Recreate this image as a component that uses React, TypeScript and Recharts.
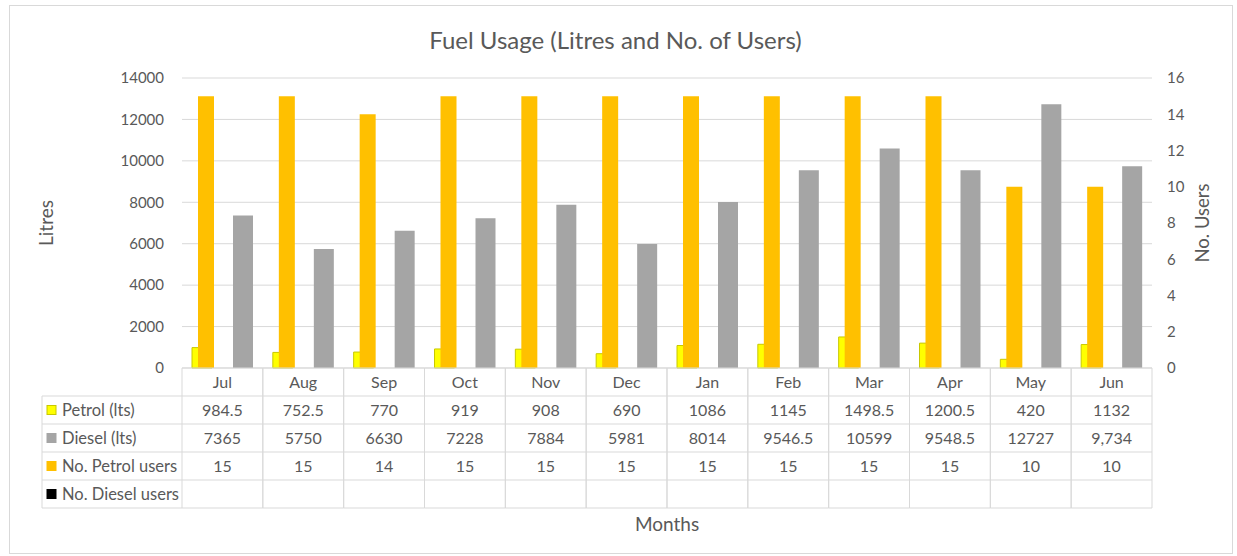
import React from 'react';
import { BarChart, Bar, XAxis, YAxis, CartesianGrid } from 'recharts';

const months = ['Jul', 'Aug', 'Sep', 'Oct', 'Nov', 'Dec', 'Jan', 'Feb', 'Mar', 'Apr', 'May', 'Jun'];
const petrolLitres = [984.5, 752.5, 770, 919, 908, 690, 1086, 1145, 1498.5, 1200.5, 420, 1132];
const dieselLitres = [7365, 5750, 6630, 7228, 7884, 5981, 8014, 9546.5, 10599, 9548.5, 12727, 9734];
const dieselText = ['7365', '5750', '6630', '7228', '7884', '5981', '8014', '9546.5', '10599', '9548.5', '12727', '9,734'];
const petrolUsers = [15, 15, 14, 15, 15, 15, 15, 15, 15, 15, 10, 10];
const dieselUsers: (number | null)[] = [null, null, null, null, null, null, null, null, null, null, null, null];

const litresTicks = [0, 2000, 4000, 6000, 8000, 10000, 12000, 14000];
const userTicks = [0, 2, 4, 6, 8, 10, 12, 14, 16];

const data = months.map((m, i) => ({
  month: m,
  petrol: petrolLitres[i],
  diesel: dieselLitres[i],
  petrolUsers: petrolUsers[i],
  dieselUsers: dieselUsers[i],
}));

const FONT = 'Lato, "Open Sans", sans-serif';
const TEXT = '#595959';
const LINE = '#d9d9d9';

// table layout
const PLOT_LEFT = 182;
const PLOT_W = 970;
const COL_W = PLOT_W / months.length;
const ROW_H = 28;
const LABEL_LEFT = 42;

const rows = [
  { name: 'Petrol (lts)', fill: '#FFFF00', stroke: '#C8C800', text: (i: number) => String(petrolLitres[i]) },
  { name: 'Diesel (lts)', fill: '#A5A5A5', stroke: '#A5A5A5', text: (i: number) => dieselText[i] },
  { name: 'No. Petrol users', fill: '#FFC000', stroke: '#FFC000', text: (i: number) => String(petrolUsers[i]) },
  { name: 'No. Diesel users', fill: '#000000', stroke: '#000000', text: (i: number) => (dieselUsers[i] == null ? '' : String(dieselUsers[i])) },
];

const TableTick = (props: any) => {
  const { x, y, payload } = props;
  const i = props.index ?? payload.index;
  const left = x - COL_W / 2;
  const right = x + COL_W / 2;
  const bottom = y + ROW_H * (rows.length + 1);
  return (
    <g>
      <line x1={left} x2={left} y1={y} y2={bottom} stroke={LINE} />
      <line x1={right} x2={right} y1={y} y2={bottom} stroke={LINE} />
      {[0, 1, 2, 3, 4, 5].map((r) => (
        <line key={r} x1={left} x2={right} y1={y + r * ROW_H} y2={y + r * ROW_H} stroke={LINE} />
      ))}
      <text x={x} y={y + ROW_H / 2} dy="0.35em" textAnchor="middle" fill={TEXT} fontSize={16} fontFamily={FONT}>
        {payload.value}
      </text>
      {rows.map((row, r) => (
        <text key={r} x={x} y={y + (r + 1.5) * ROW_H} dy="0.35em" textAnchor="middle" fill={TEXT} fontSize={16} fontFamily={FONT}>
          {row.text(i)}
        </text>
      ))}
      {i === 0 && (
        <g>
          <line x1={LABEL_LEFT} x2={LABEL_LEFT} y1={y + ROW_H} y2={bottom} stroke={LINE} />
          {[1, 2, 3, 4, 5].map((r) => (
            <line key={r} x1={LABEL_LEFT} x2={left} y1={y + r * ROW_H} y2={y + r * ROW_H} stroke={LINE} />
          ))}
          {rows.map((row, r) => (
            <g key={r}>
              <rect x={LABEL_LEFT + 5} y={y + (r + 1.5) * ROW_H - 4.5} width={9} height={9} fill={row.fill} stroke={row.stroke} />
              <text x={LABEL_LEFT + 20} y={y + (r + 1.5) * ROW_H} dy="0.35em" fill={TEXT} fontSize={16.5} fontFamily={FONT}>
                {row.name}
              </text>
            </g>
          ))}
        </g>
      )}
    </g>
  );
};

export default function App() {
  return (
    <div style={{ position: 'fixed', left: 0, top: 0, width: 1237, height: 556, background: '#fff' }}>
      <div
        style={{
          position: 'absolute',
          left: 9,
          top: 5,
          width: 1222,
          height: 547,
          border: `1px solid ${LINE}`,
        }}
      />
      <div
        style={{
          position: 'absolute',
          left: 0,
          width: 1237,
          top: 24,
          textAlign: 'center',
          paddingRight: 6,
          boxSizing: 'border-box',
          fontFamily: FONT,
          fontSize: 24,
          color: TEXT,
          lineHeight: '32px',
        }}
      >
        Fuel Usage (Litres and No. of Users)
      </div>
      <div style={{ position: 'absolute', left: 0, top: 0 }}>
        <BarChart
          width={1237}
          height={556}
          data={data}
          margin={{ top: 78, right: 0, bottom: 0, left: 42 }}
          barGap={21}
        >
          <CartesianGrid vertical={false} stroke={LINE} xAxisId="a" yAxisId="left" />
          <XAxis
            xAxisId="a"
            dataKey="month"
            height={188}
            interval={0}
            axisLine={false}
            tickLine={false}
            tickSize={0}
            tickMargin={0}
            tick={<TableTick />}
            label={{ value: 'Months', position: 'insideBottom', offset: 25, fill: TEXT, fontSize: 19, fontFamily: FONT }}
          />
          <XAxis xAxisId="b" dataKey="month" hide />
          <YAxis
            yAxisId="left"
            width={PLOT_LEFT - LABEL_LEFT}
            domain={[0, 14000]}
            ticks={litresTicks}
            axisLine={false}
            tickLine={false}
            tickSize={0}
            tickMargin={18}
            tick={{ fill: TEXT, fontSize: 15, fontFamily: FONT }}
            label={{
              content: (p: any) => {
                const vb = p.viewBox;
                const cx = vb.x + 4;
                const cy = vb.y + vb.height / 2;
                return (
                  <text x={cx} y={cy} dy="0.35em" textAnchor="middle" transform={`rotate(-90, ${cx}, ${cy})`} fill={TEXT} fontSize={19} fontFamily={FONT}>
                    Litres
                  </text>
                );
              },
            }}
          />
          <YAxis
            yAxisId="right"
            orientation="right"
            width={85}
            domain={[0, 16]}
            ticks={userTicks}
            axisLine={false}
            tickLine={false}
            tickSize={0}
            tickMargin={15}
            tick={{ fill: TEXT, fontSize: 15, fontFamily: FONT, textAnchor: 'start' }}
            label={{
              content: (p: any) => {
                const vb = p.viewBox;
                const cx = vb.x + 51;
                const cy = vb.y + vb.height / 2;
                return (
                  <text x={cx} y={cy} dy="0.35em" textAnchor="middle" transform={`rotate(-90, ${cx}, ${cy})`} fill={TEXT} fontSize={18.5} fontFamily={FONT}>
                    No. Users
                  </text>
                );
              },
            }}
          />
          <Bar xAxisId="a" yAxisId="left" dataKey="petrol" name="Petrol (lts)" barSize={20} fill="#FFFF00" stroke="#C8C800" isAnimationActive={false} />
          <Bar xAxisId="a" yAxisId="left" dataKey="diesel" name="Diesel (lts)" barSize={20} fill="#A5A5A5" isAnimationActive={false} />
          <Bar xAxisId="b" yAxisId="right" dataKey="petrolUsers" name="No. Petrol users" barSize={16} fill="#FFC000" isAnimationActive={false} />
          <Bar xAxisId="b" yAxisId="right" dataKey="dieselUsers" name="No. Diesel users" barSize={12} fill="#000000" isAnimationActive={false} />
        </BarChart>
      </div>
    </div>
  );
}
